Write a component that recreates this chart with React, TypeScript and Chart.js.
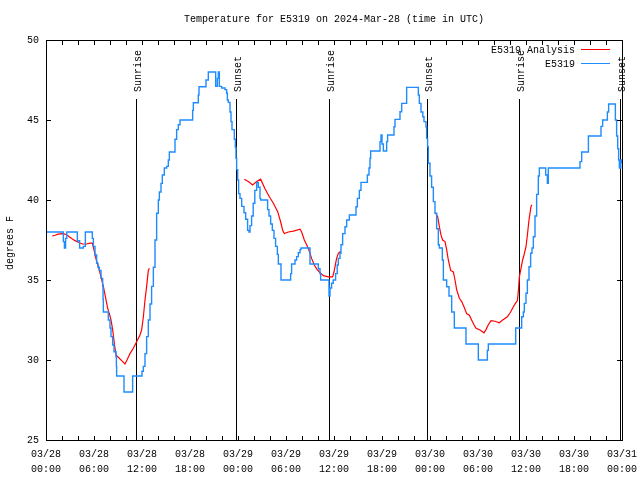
import React, { useEffect, useRef } from 'react';
import { Chart, registerables } from 'chart.js';

Chart.register(...registerables);

const TITLE = 'Temperature for E5319 on 2024-Mar-28 (time in UTC)';
const Y_TITLE = 'degrees F';
const DATES = ['03/28', '03/29', '03/30', '03/31'];
const LEGEND_ANALYSIS = 'E5319 Analysis';
const LEGEND_OBS = 'E5319';

// Observed series (hours since 03/28 00:00 UTC, value from that moment on)
const OBS_HOURS = [
  0, 2.17, 2.3, 2.45, 2.6, 3.92, 4.2, 4.67, 4.92, 5.79, 5.92, 6.125, 6.33, 6.5, 6.67, 6.875,
  7.08, 7.13, 7.17, 7.79, 8.0, 8.125, 8.33, 8.5, 8.75, 8.8, 8.83, 9.75, 10.83, 12.0, 12.17,
  12.375, 12.58, 12.79, 13.0, 13.2, 13.42, 13.625, 13.83, 14.04, 14.17, 14.375, 14.54, 14.79,
  15.08, 15.29, 15.42, 16.125, 16.33, 16.54, 16.75, 18.33, 18.42, 19.04, 19.125, 20.0, 20.29,
  21.21, 21.42, 21.54, 21.67, 21.96, 22.375, 22.58, 22.67, 22.79, 23.0, 23.125, 23.25, 23.54,
  23.67, 23.75, 23.83, 23.96, 24.08, 24.25, 24.46, 24.75, 24.96, 25.2, 25.375, 25.5, 25.7,
  25.9, 26.1, 26.33, 26.54, 26.75, 26.83, 27.7, 27.875, 28.08, 28.29, 28.5, 28.7, 28.92,
  29.04, 29.375, 30.58, 30.7, 31.125, 31.33, 31.54, 31.75, 31.875, 33.0, 34.04, 34.25, 34.33,
  35.375, 35.5, 35.7, 35.9, 36.2, 36.4, 36.54, 36.75, 36.875, 37.08, 37.375, 37.58, 37.92,
  38.75, 38.92, 39.17, 39.375, 40.17, 40.375, 40.5, 40.58, 41.75, 41.875, 42.0, 42.17, 42.58,
  42.7, 43.5, 43.625, 44.25, 44.46, 45.08, 46.54, 46.67, 46.875, 47.1, 47.25, 47.5, 47.58,
  47.7, 47.79, 48.0, 48.2, 48.42, 48.625, 48.83, 49.04, 49.17, 49.54, 49.67, 50.08, 50.375,
  50.71, 51.04, 52.5, 54.04, 55.17, 55.29, 58.71, 59.46, 59.67, 59.79, 60.0, 60.17, 60.375,
  60.58, 60.75, 60.92, 61.125, 61.33, 61.54, 61.67, 62.46, 62.67, 62.79, 66.75, 66.96, 67.8,
  69.375, 69.58, 70.17, 70.33, 71.17, 71.33, 71.46, 71.58, 71.67, 71.85, 72.0,
];
const OBS_TEMPS = [
  38.0, 37.4, 37.0, 37.6, 38.0, 37.45, 37.0, 37.1, 38.0, 37.6, 37.1, 36.56, 36.04, 35.8, 35.6, 35.1,
  34.6, 33.8, 33.0, 32.5, 32.0, 31.46, 30.94, 30.52, 30.2, 29.6, 29.0, 28.0, 29.0, 29.3, 29.6,
  30.4, 31.46, 32.5, 33.5, 34.6, 35.8, 37.5, 39.17, 40.0, 40.5, 41.04, 41.56, 42.0,
  42.1, 42.5, 43.0, 43.8, 44.4, 44.7, 45.0, 45.6, 46.08, 46.56, 47.08, 47.5, 48.0,
  47.1, 47.6, 48.0, 47.1, 47.0, 46.9, 46.67, 46.25, 46.1, 45.5, 44.9, 44.4, 43.8,
  43.3, 42.6, 41.9, 41.25, 40.4, 40.1, 39.6, 39.2, 38.8, 38.1, 38.0, 38.4, 39.0,
  39.8, 40.6, 41.1, 40.8, 40.1, 40.0, 39.4, 39.0, 38.5, 38.1, 37.6, 37.1, 36.6,
  36.0, 35.0, 35.4, 36.0, 36.25, 36.46, 36.7, 36.9, 37.0, 36.0, 35.7, 35.4, 35.0,
  34.0, 34.5, 34.8, 35.0, 35.4, 35.94, 36.35, 36.67, 37.2, 37.9, 38.33, 38.75, 39.06,
  39.58, 40.1, 40.6, 41.1, 41.56, 42.0, 42.6, 43.06, 43.65, 44.06, 43.5, 43.06, 43.65,
  44.06, 44.58, 45.04, 45.52, 46.04, 47.04, 46.56, 46.04, 45.5, 45.2, 44.9, 44.58, 43.85,
  43.33, 42.3, 41.5, 40.8, 39.9, 39.17, 38.2, 37.2, 37.0, 36.25, 35.0, 34.58, 34.0,
  33.0, 32.0, 31.0, 30.0, 30.6, 31.0, 32.0, 32.7, 33.0, 33.54, 34.17, 35.0, 35.83,
  36.67, 37.0, 37.7, 39.0, 40.35, 41.5, 42.0, 41.56, 41.04, 42.0, 42.4, 43.0, 44.0,
  44.6, 45.0, 45.5, 46.0, 45.0, 44.0, 43.2, 42.5, 42.0, 42.5, 42.3,
];

// Analysis series (null marks a gap between runs)
const ANA_HOURS = [
  0.79, 1.125, 1.54, 1.96, 2.375, 2.79, 3.21, 3.625, 4.17, 4.58, 5.08, 5.5, 5.79, 6.0, 6.17,
  6.42, 6.67, 6.875, 7.17, 7.46, 7.71, 7.92, 8.125, 8.33, 8.54, 8.75, 9.04, 9.46, 9.875,
  10.17, 10.5, 10.92, 11.33, 11.75, 11.96, 12.17, 12.375, 12.58, 12.79, 12.92,
  18,
  24.79, 25.29, 25.83, 26.33, 26.83, 27.375, 27.92, 28.42, 28.96, 29.33, 29.58, 29.79, 30.29,
  30.92, 31.75, 31.96, 32.29, 32.58, 32.92, 33.2, 33.54, 33.83, 34.17, 34.67, 35.29, 35.83,
  36.0, 36.2, 36.33, 36.54, 36.83,
  42,
  48.71, 48.96, 49.17, 49.375, 49.58, 49.875, 50.08, 50.29, 50.58, 50.92, 51.125, 51.33,
  51.67, 51.96, 52.25, 52.58, 52.92, 53.2, 53.5, 53.75, 54.25, 54.75, 55.0, 55.29, 55.625,
  56.125, 56.67, 57.08, 57.67, 58.08, 58.42, 58.75, 58.92, 59.04, 59.17, 59.375, 59.58,
  59.75, 60.0, 60.17, 60.375, 60.625, 60.75,
];
const ANA_TEMPS = [
  37.75, 37.8, 37.87, 37.9, 37.87, 37.75, 37.6, 37.46, 37.33, 37.25, 37.25, 37.3, 37.3, 36.9, 36.46,
  36.04, 35.6, 35.2, 34.6, 33.86, 33.23, 32.9, 32.5, 31.9, 31.04, 30.3, 30.17, 29.96, 29.75,
  30.04, 30.4, 30.73, 31.14, 31.56, 31.9, 32.7, 33.75, 34.6, 35.6, 35.73,
  null,
  41.3, 41.15, 40.94, 41.15, 41.3, 40.7, 40.2, 39.8, 39.27, 38.64, 38.1, 37.9, 38.0,
  38.05, 38.17, 38.0, 37.5, 37.2, 36.8, 36.35, 35.94, 35.7, 35.5, 35.27, 35.2, 35.2,
  35.5, 36.04, 36.35, 36.67, 36.8,
  null,
  39.17, 38.96, 38.33, 37.8, 37.5, 37.4, 36.9, 36.25, 35.6, 35.5, 35.0, 34.4,
  33.86, 33.65, 33.33, 32.9, 32.8, 32.5, 32.2, 31.98, 31.875, 31.7, 31.9, 32.2, 32.46,
  32.42, 32.33, 32.5, 32.7, 33.0, 33.33, 33.6, 33.7, 34.27, 35.2, 35.73, 36.25,
  36.56, 37.08, 37.8, 38.75, 39.6, 39.7,
];

const SUN_LABELS = ['Sunrise', 'Sunset', 'Sunrise', 'Sunset', 'Sunrise', 'Sunset'];
const SUN_HOURS = [11.3, 23.7, 35.33, 47.67, 59.17, 71.75];
const SUN_LINE_TOP = 46.3;
const SUN_TEXT_START = 46.75;

const FONT_FAMILY = '"Liberation Mono", "DejaVu Sans Mono", monospace';
const FONT = '10px ' + FONT_FAMILY;
const RED = 'rgb(255,0,0)';
const BLUE = 'rgb(30,140,255)';

const decorPlugin = {
  id: 'decor',
  beforeDatasetsDraw(chart: any) {
    const { ctx, scales } = chart;
    const xs = scales.x;
    const ys = scales.y;
    ctx.save();
    ctx.strokeStyle = '#000';
    ctx.lineWidth = 1;
    ctx.fillStyle = '#000';
    ctx.font = FONT;
    const yTop = ys.getPixelForValue(SUN_LINE_TOP);
    const yText = ys.getPixelForValue(SUN_TEXT_START);
    const yBot = ys.getPixelForValue(25);
    SUN_HOURS.forEach((h, i) => {
      const x = Math.round(xs.getPixelForValue(h)) + 0.5;
      ctx.beginPath();
      ctx.moveTo(x, Math.round(yTop));
      ctx.lineTo(x, yBot);
      ctx.stroke();
      ctx.save();
      ctx.translate(x + 4.5, yText);
      ctx.rotate(-Math.PI / 2);
      ctx.textAlign = 'left';
      ctx.textBaseline = 'alphabetic';
      ctx.fillText(SUN_LABELS[i], 0, 0);
      ctx.restore();
    });
    ctx.restore();
  },
  afterDraw(chart: any) {
    const { ctx, chartArea, scales } = chart;
    const xs = scales.x;
    const ys = scales.y;
    const { left, right, top, bottom } = chartArea;
    ctx.save();
    ctx.strokeStyle = '#000';
    ctx.fillStyle = '#000';
    ctx.lineWidth = 1;
    ctx.strokeRect(left + 0.5, top + 0.5, right - left, bottom - top);
    ctx.beginPath();
    for (let h = 2; h < 72; h += 2) {
      const x = Math.round(xs.getPixelForValue(h)) + 0.5;
      ctx.moveTo(x, bottom);
      ctx.lineTo(x, bottom - 4);
      ctx.moveTo(x, top);
      ctx.lineTo(x, top + 5);
    }
    for (let v = 30; v < 50; v += 5) {
      const y = Math.round(ys.getPixelForValue(v)) + 0.5;
      ctx.moveTo(left, y);
      ctx.lineTo(left + 5, y);
      ctx.moveTo(right, y);
      ctx.lineTo(right - 5, y);
    }
    ctx.stroke();

    ctx.font = FONT;
    ctx.textBaseline = 'middle';
    ctx.textAlign = 'center';
    ctx.fillText(TITLE, (left + right) / 2, 19);

    ctx.save();
    ctx.translate(13, (top + bottom) / 2 + 3);
    ctx.rotate(-Math.PI / 2);
    ctx.textAlign = 'center';
    ctx.textBaseline = 'alphabetic';
    ctx.fillText(Y_TITLE, 0, 0);
    ctx.restore();

    ctx.textAlign = 'right';
    ctx.textBaseline = 'middle';
    ctx.fillText(LEGEND_ANALYSIS, 575, 50);
    ctx.fillText(LEGEND_OBS, 575, 64);
    ctx.strokeStyle = RED;
    ctx.beginPath();
    ctx.moveTo(581, 49.5);
    ctx.lineTo(610, 49.5);
    ctx.stroke();
    ctx.strokeStyle = BLUE;
    ctx.beginPath();
    ctx.moveTo(581, 63.5);
    ctx.lineTo(610, 63.5);
    ctx.stroke();
    ctx.restore();
  },
};

export default function App() {
  const ref = useRef<HTMLCanvasElement>(null);
  useEffect(() => {
    if (!ref.current) return;
    const obs = OBS_HOURS.map((h, i) => ({ x: h, y: OBS_TEMPS[i] }));
    const ana = ANA_HOURS.map((h, i) => ({ x: h, y: ANA_TEMPS[i] }));
    const chart = new Chart(ref.current, {
      type: 'line',
      data: {
        datasets: [
          {
            label: LEGEND_OBS,
            data: obs,
            borderColor: BLUE,
            borderWidth: 1.4,
            pointRadius: 0,
            stepped: true,
            fill: false,
          },
          {
            label: LEGEND_ANALYSIS,
            data: ana as any,
            borderColor: RED,
            borderWidth: 1.2,
            pointRadius: 0,
            spanGaps: false,
            fill: false,
            tension: 0,
          },
        ],
      },
      options: {
        responsive: false,
        animation: false,
        events: [],
        layout: { padding: { top: 40, right: 18, left: 0, bottom: 0 } },
        plugins: {
          legend: { display: false },
          title: { display: false },
          tooltip: { enabled: false },
        },
        scales: {
          x: {
            type: 'linear',
            min: 0,
            max: 72,
            grid: { display: false, drawTicks: false },
            border: { display: false },
            ticks: {
              stepSize: 6,
              autoSkip: false,
              maxRotation: 0,
              minRotation: 0,
              padding: 7.5,
              color: '#000',
              font: { family: FONT_FAMILY, size: 10, lineHeight: 1.45 },
              callback: (value: any) => {
                const v = Number(value);
                const d = Math.floor(v / 24);
                const hh = v - d * 24;
                return [DATES[d], String(hh).padStart(2, '0') + ':00'];
              },
            },
            afterFit: (s: any) => {
              s.height = 40;
              s.paddingLeft = 0;
              s.paddingRight = 0;
            },
          },
          y: {
            min: 25,
            max: 50,
            grid: { display: false, drawTicks: false },
            border: { display: false },
            ticks: {
              stepSize: 5,
              padding: 7,
              color: '#000',
              font: { family: FONT_FAMILY, size: 10 },
            },
            afterFit: (s: any) => {
              s.width = 46;
              s.paddingTop = 0;
              s.paddingBottom = 0;
            },
          },
        },
      },
      plugins: [decorPlugin],
    });
    return () => chart.destroy();
  }, []);
  return (
    <div style={{ position: 'absolute', left: 0, top: 0, width: 640, height: 480, background: '#fff' }}>
      <canvas ref={ref} width={640} height={480} />
    </div>
  );
}
